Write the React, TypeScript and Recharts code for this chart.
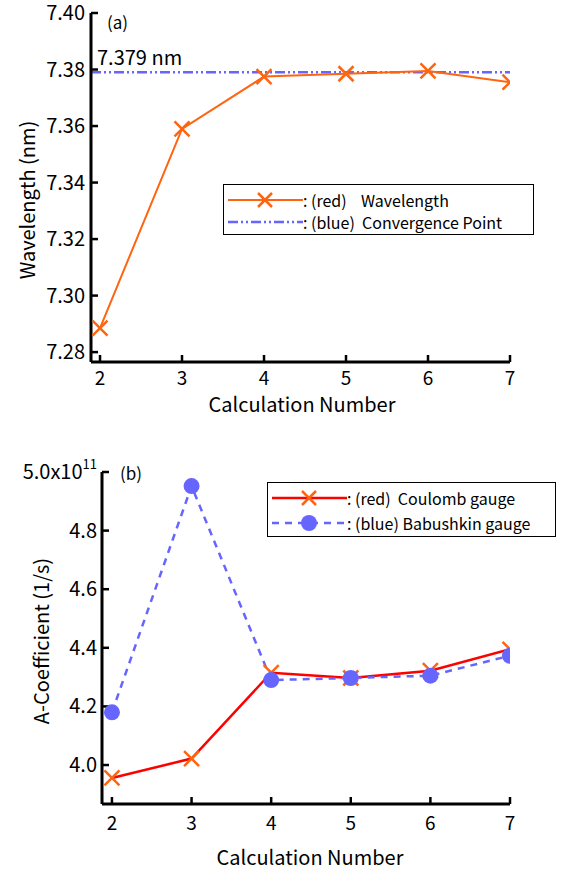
import {
  LineChart,
  Line,
  XAxis,
  YAxis,
  ReferenceLine,
} from "recharts";

const calcNumbers = [2, 3, 4, 5, 6, 7];
const wavelength = [7.2885, 7.359, 7.3775, 7.3785, 7.3795, 7.3755];
const convergence = 7.379;
const wavelengthTicks = [7.28, 7.3, 7.32, 7.34, 7.36, 7.38, 7.4];

// A-coefficients in units of 1e11 1/s
const coulomb = [3.956, 4.022, 4.315, 4.297, 4.322, 4.395];
const babushkin = [4.18, 4.952, 4.29, 4.297, 4.305, 4.373];
const aTicks = [4.0, 4.2, 4.4, 4.6, 4.8, 5.0];

const topData = calcNumbers.map((n, i) => ({ n, wl: wavelength[i] }));
const bottomData = calcNumbers.map((n, i) => ({
  n,
  coulomb: coulomb[i],
  babushkin: babushkin[i],
}));

const FONT = '"Noto Sans CJK JP", "Noto Sans", sans-serif';
const ORANGE = "#ff6410";
const RED = "#ff0000";
const BLUE = "#6666ff";
const yTickStyle = { fontSize: 20, fill: "#000", fontFamily: FONT };
const xTickStyle = { fontSize: 19, fill: "#000", fontFamily: FONT };

function CrossDot(props: any) {
  const { cx, cy } = props;
  if (cx == null || cy == null) return null;
  const s = 7.5;
  return (
    <g>
      <line x1={cx - s} y1={cy - s} x2={cx + s} y2={cy + s} stroke={ORANGE} strokeWidth={2.5} />
      <line x1={cx - s} y1={cy + s} x2={cx + s} y2={cy - s} stroke={ORANGE} strokeWidth={2.5} />
    </g>
  );
}

function ATick(props: any) {
  const { x, y, payload } = props;
  const v = payload.value as number;
  if (Math.abs(v - 5) < 1e-9) {
    return (
      <text x={x} y={y} dy="0.35em" textAnchor="end" style={yTickStyle}>
        <tspan>5.0x10</tspan>
        <tspan dy={-10} fontSize={13}>11</tspan>
      </text>
    );
  }
  return (
    <text x={x} y={y} dy="0.35em" textAnchor="end" style={yTickStyle}>
      {v.toFixed(1)}
    </text>
  );
}

const abs = (left: number, top: number, extra: any = {}) => ({
  position: "absolute" as const,
  left,
  top,
  fontFamily: FONT,
  color: "#000",
  whiteSpace: "nowrap" as const,
  ...extra,
});

export default function App() {
  return (
    <div style={{ position: "absolute", left: 0, top: 0, width: 565, height: 873, background: "#fff" }}>
      {/* (a) wavelength convergence */}
      <div style={{ position: "absolute", left: 0, top: 0 }}>
        <LineChart
          width={565}
          height={430}
          data={topData}
          margin={{ top: 13, right: 55, left: 0, bottom: 28 }}
        >
          <XAxis
            dataKey="n"
            type="number"
            domain={[1.89, 7]}
            allowDataOverflow
            ticks={calcNumbers}
            tickSize={-7}
            tickMargin={17}
            height={40}
            tick={xTickStyle}
            axisLine={{ stroke: "#000", strokeWidth: 3 }}
            tickLine={{ stroke: "#000", strokeWidth: 2.5 }}
          />
          <YAxis
            type="number"
            domain={[7.2765, 7.4]}
            allowDataOverflow
            ticks={wavelengthTicks}
            tickFormatter={(v: number) => v.toFixed(2)}
            width={91}
            tickSize={-7}
            tickMargin={13}
            tick={yTickStyle}
            axisLine={{ stroke: "#000", strokeWidth: 3 }}
            tickLine={{ stroke: "#000", strokeWidth: 2.5 }}
          />
          <ReferenceLine
            y={convergence}
            stroke={BLUE}
            strokeWidth={2.5}
            strokeDasharray="10 3 2 3 2 3"
          />
          <Line
            type="linear"
            dataKey="wl"
            stroke={ORANGE}
            strokeWidth={2}
            dot={(p: any) => <CrossDot key={p.index} cx={p.cx} cy={p.cy} />}
            isAnimationActive={false}
          />
        </LineChart>
      </div>
      <div style={abs(97, 45, { fontSize: 20, lineHeight: "24px" })}>7.379 nm</div>
      <div style={abs(107, 12, { fontSize: 17, lineHeight: "20px" })}>(a)</div>
      <div
        style={abs(27, 200, {
          fontSize: 20,
          lineHeight: "24px",
          transform: "translate(-50%, -50%) rotate(-90deg)",
        })}
      >
        Wavelength (nm)
      </div>
      <div style={abs(302, 404, { fontSize: 20, lineHeight: "22px", transform: "translate(-50%, -50%)" })}>
        Calculation Number
      </div>
      <div
        style={abs(223, 184, {
          width: 311,
          height: 51,
          border: "1.5px solid #000",
          boxSizing: "border-box",
          fontSize: 16,
        })}
      >
        <div style={{ position: "absolute", left: 4, top: 4, display: "flex", alignItems: "center", height: 22 }}>
          <svg width={75} height={20}>
            <line x1={0} y1={10} x2={75} y2={10} stroke={ORANGE} strokeWidth={2} />
            <line x1={30} y1={3} x2={44} y2={17} stroke={ORANGE} strokeWidth={2.5} />
            <line x1={30} y1={17} x2={44} y2={3} stroke={ORANGE} strokeWidth={2.5} />
          </svg>
          <span>:&nbsp;(red)&nbsp;&nbsp;&nbsp;&nbsp;Wavelength</span>
        </div>
        <div style={{ position: "absolute", left: 4, top: 26, display: "flex", alignItems: "center", height: 22 }}>
          <svg width={75} height={20}>
            <line x1={0} y1={10} x2={75} y2={10} stroke={BLUE} strokeWidth={2.5} strokeDasharray="10 3 2 3 2 3" />
          </svg>
          <span>:&nbsp;(blue)&nbsp;&nbsp;Convergence Point</span>
        </div>
      </div>

      {/* (b) A-coefficient */}
      <div style={{ position: "absolute", left: 0, top: 440 }}>
        <LineChart
          width={565}
          height={433}
          data={bottomData}
          margin={{ top: 32, right: 55, left: 0, bottom: 29 }}
        >
          <XAxis
            dataKey="n"
            type="number"
            domain={[1.875, 7]}
            allowDataOverflow
            ticks={calcNumbers}
            tickSize={-7}
            tickMargin={20}
            height={40}
            tick={xTickStyle}
            axisLine={{ stroke: "#000", strokeWidth: 3 }}
            tickLine={{ stroke: "#000", strokeWidth: 2.5 }}
          />
          <YAxis
            type="number"
            domain={[3.867, 5.0]}
            allowDataOverflow
            ticks={aTicks}
            width={102}
            tickSize={-7}
            tickMargin={12}
            tick={<ATick />}
            axisLine={{ stroke: "#000", strokeWidth: 3 }}
            tickLine={{ stroke: "#000", strokeWidth: 2.5 }}
          />
          <Line
            type="linear"
            dataKey="coulomb"
            stroke={RED}
            strokeWidth={2.5}
            dot={(p: any) => <CrossDot key={p.index} cx={p.cx} cy={p.cy} />}
            isAnimationActive={false}
          />
          <Line
            type="linear"
            dataKey="babushkin"
            stroke={BLUE}
            strokeWidth={2.5}
            strokeDasharray="7 6"
            dot={{ r: 8, fill: BLUE, stroke: BLUE, strokeWidth: 0 }}
            isAnimationActive={false}
          />
        </LineChart>
      </div>
      <div style={abs(120, 463, { fontSize: 17, lineHeight: "20px" })}>(b)</div>
      <div
        style={abs(41, 641, {
          fontSize: 20,
          lineHeight: "24px",
          transform: "translate(-50%, -50%) rotate(-90deg)",
        })}
      >
        A-Coefficient (1/s)
      </div>
      <div style={abs(310, 857, { fontSize: 20, lineHeight: "22px", transform: "translate(-50%, -50%)" })}>
        Calculation Number
      </div>
      <div
        style={abs(267, 482, {
          width: 289,
          height: 55,
          border: "1.5px solid #000",
          boxSizing: "border-box",
          fontSize: 16,
        })}
      >
        <div style={{ position: "absolute", left: 4, top: 3, display: "flex", alignItems: "center", height: 24 }}>
          <svg width={75} height={22}>
            <line x1={0} y1={11} x2={75} y2={11} stroke={RED} strokeWidth={2.5} />
            <line x1={30} y1={4} x2={44} y2={18} stroke={ORANGE} strokeWidth={2.5} />
            <line x1={30} y1={18} x2={44} y2={4} stroke={ORANGE} strokeWidth={2.5} />
          </svg>
          <span>:&nbsp;(red)&nbsp;&nbsp;Coulomb gauge</span>
        </div>
        <div style={{ position: "absolute", left: 4, top: 28, display: "flex", alignItems: "center", height: 24 }}>
          <svg width={75} height={22}>
            <line x1={0} y1={11} x2={75} y2={11} stroke={BLUE} strokeWidth={2.5} strokeDasharray="7 6" />
            <circle cx={37} cy={11} r={8} fill={BLUE} />
          </svg>
          <span>:&nbsp;(blue)&nbsp;Babushkin gauge</span>
        </div>
      </div>
    </div>
  );
}
